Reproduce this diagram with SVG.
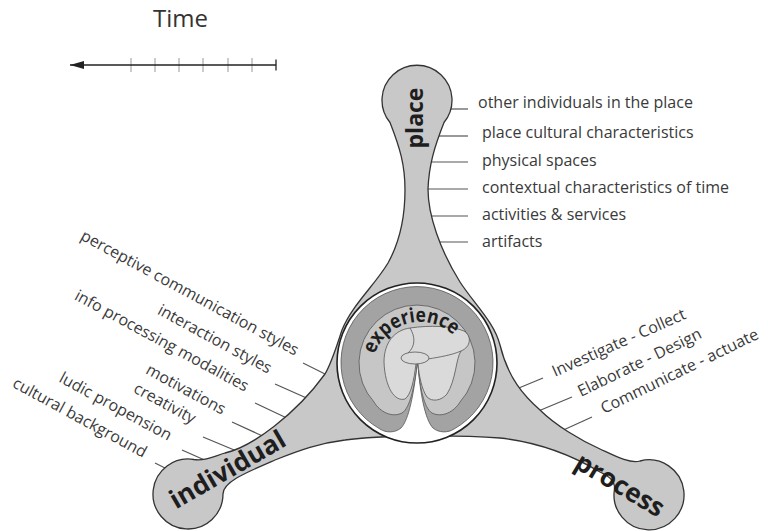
<svg xmlns="http://www.w3.org/2000/svg" width="768" height="531" viewBox="0 0 768 531">
<style>
.lbl{font-family:"Open Sans","Liberation Sans",sans-serif;font-size:16px;fill:#3a3a3a}
.big{font-family:"Open Sans","Liberation Sans",sans-serif;font-weight:bold;fill:#1e1e1e}
.tick{stroke:#555;stroke-width:1.2;fill:none}
.gtick{stroke:#aaa;stroke-width:1.2}
.inl{stroke:#555;stroke-width:0.8}
</style>
<defs>
<marker id="arrow" viewBox="0 0 14 8" refX="14" refY="4" markerWidth="14" markerHeight="8" markerUnits="userSpaceOnUse" orient="auto">
<path d="M0 0 L14 4 L0 8 Z" fill="#222"/>
</marker>
<path id="expArc" d="M 374.6 354.4 A 48 48 0 0 1 456.8 339.1"/>
</defs>
<rect width="768" height="531" fill="#fff"/>

<g id="time-axis">
<text x="153" y="27" style="font-family:'Open Sans','Liberation Sans',sans-serif;font-size:24px;fill:#333">Time</text>
<g class="gtick">
<line x1="131" y1="58" x2="131" y2="72"/>
<line x1="155" y1="58" x2="155" y2="72"/>
<line x1="179" y1="58" x2="179" y2="72"/>
<line x1="203" y1="58" x2="203" y2="72"/>
<line x1="228" y1="58" x2="228" y2="72"/>
<line x1="252" y1="58" x2="252" y2="72"/>
</g>
<line x1="276" y1="65" x2="70" y2="65" stroke="#222" stroke-width="1.3" marker-end="url(#arrow)"/>
<line x1="276" y1="59.5" x2="276" y2="70.5" stroke="#222" stroke-width="1.3"/>
</g>

<g id="connectors" class="tick">
<line x1="447" y1="109" x2="468" y2="109"/>
<line x1="436" y1="136" x2="468" y2="136"/>
<line x1="428" y1="162" x2="468" y2="162"/>
<line x1="424" y1="189" x2="468" y2="189"/>
<line x1="428" y1="216" x2="468" y2="216"/>
<line x1="434" y1="242" x2="468" y2="242"/>
<line x1="303" y1="363" x2="329" y2="376"/>
<line x1="275" y1="384" x2="311" y2="400"/>
<line x1="255" y1="403" x2="291" y2="420"/>
<line x1="232" y1="422" x2="269" y2="439"/>
<line x1="203" y1="437" x2="239" y2="452"/>
<line x1="182" y1="450" x2="209" y2="462"/>
<line x1="155" y1="463" x2="169" y2="470"/>
<line x1="543" y1="378" x2="514" y2="390"/>
<line x1="572" y1="397" x2="536" y2="412"/>
<line x1="592" y1="417" x2="559" y2="432"/>
</g>

<g id="arms">
<path d="M 390 122.5 C 400 148, 405 165, 405 190 C 405 220, 398 245, 388 263 C 375 285, 352 305, 342 330 C 337 345, 332 362, 325 374 C 296 414, 252 447, 225 453 C 212 457, 204 461, 194 459.5 A 35 35 0 1 0 223 494 C 223 482, 245 473, 275 460 C 300 450, 320 443, 345 440 C 380 435, 460 435, 500 438 C 545 443, 580 460, 600 472 C 608 476, 615 480, 614.5 489 A 35 35 0 1 0 640 461 C 630 464, 615 456, 600 449 C 580 440, 555 425, 540 410 C 524 396, 508 378, 500 345 C 494 322, 475 305, 460 282 C 440 250, 428 215, 428 189 C 429 165, 434 148, 444 122.5 A 35 35 0 1 0 390 122.5 Z" fill="#c8c8c8" stroke="#333" stroke-width="1.3"/>
</g>

<g id="place">
<text class="big" font-size="23" text-anchor="middle" transform="translate(423,118) rotate(-90)">place</text>
<g class="lbl">
<text x="478" y="108">other individuals in the place</text>
<text x="482" y="138">place cultural characteristics</text>
<text x="482" y="166">physical spaces</text>
<text x="482" y="193">contextual characteristics of time</text>
<text x="482" y="220">activities &amp; services</text>
<text x="482" y="247">artifacts</text>
</g>
</g>

<g id="individual">
<text class="big" font-size="26" transform="translate(176,509.5) rotate(-30)">individual</text>
<g class="lbl" text-anchor="end">
<text transform="translate(295,356) rotate(28.5)">perceptive communication styles</text>
<text transform="translate(268,374) rotate(28.5)">interaction styles</text>
<text transform="translate(245,392) rotate(28.5)">info processing modalities</text>
<text transform="translate(222,415) rotate(28.5)">motivations</text>
<text transform="translate(192,424) rotate(28.5)">creativity</text>
<text transform="translate(168,441) rotate(28.5)">ludic propension</text>
<text transform="translate(143,458) rotate(28.5)">cultural background</text>
</g>
</g>

<g id="process">
<text class="big" font-size="26" transform="translate(573,467) rotate(31)">process</text>
<g class="lbl">
<text transform="translate(555,377) rotate(-24)">Investigate - Collect</text>
<text transform="translate(581,397) rotate(-26)">Elaborate - Design</text>
<text transform="translate(604,414) rotate(-26)">Communicate - actuate</text>
</g>
</g>

<g id="experience">
<circle cx="417" cy="363" r="80" fill="#fff" stroke="#222" stroke-width="1.6"/>
<path class="inl" d="M 417 365 C 414 392, 409 420, 401 428 C 395 433, 386 433, 380 429 A 76 76 0 1 1 454 429 C 448 433, 439 433, 433 428 C 425 420, 420 392, 418 365 Z" fill="#a3a3a3"/>
<path class="inl" d="M 417 365 C 414 388, 410 408, 402 413 C 392 418, 380 412, 374 402 A 58 58 0 1 1 460 402 C 454 412, 442 418, 432 413 C 424 408, 420 388, 418 365 Z" fill="#c6c6c6"/>
<path class="inl" d="M 416 364 C 414 380, 411 395, 405 399 C 395 402, 385 388, 384 362 C 384 342, 395 330, 410 328 C 430 325, 452 326, 464 331 C 472 336, 471 347, 461 351 C 456 358, 456 380, 447 394 C 441 401, 432 402, 427 397 C 422 390, 419 376, 418 364 Z" fill="#dadada"/>
<path class="inl" fill="none" d="M 410 328 C 415 336, 416 346, 408 353"/>
<path class="inl" fill="none" d="M 428 359 C 440 357, 452 355, 461 351"/>
<ellipse class="inl" cx="415" cy="358" rx="14" ry="6" fill="#dadada"/>
<text class="big" font-size="20" fill="#222"><textPath href="#expArc" textLength="96" lengthAdjust="spacingAndGlyphs">experience</textPath></text>
</g>
</svg>
